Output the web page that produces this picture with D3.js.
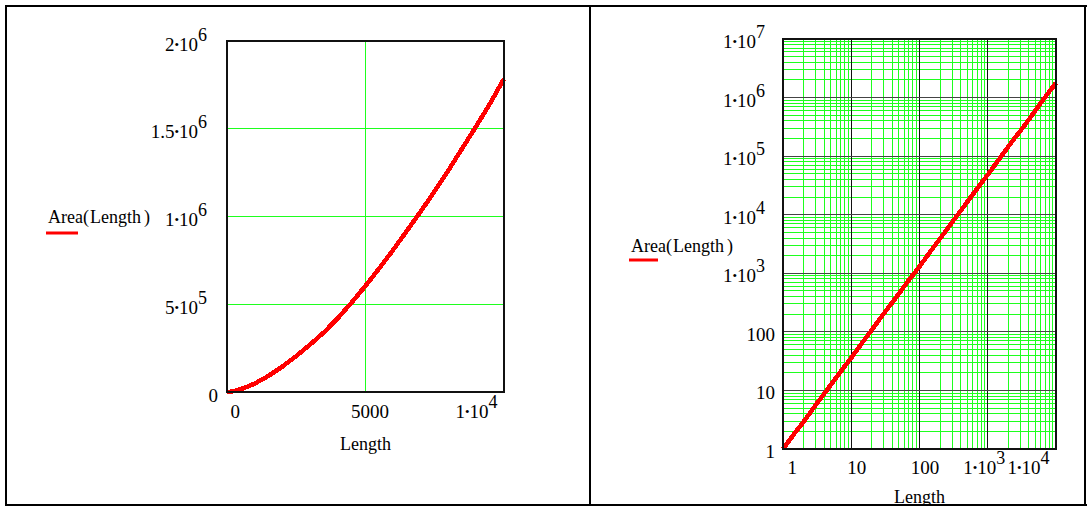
<!DOCTYPE html>
<html>
<head>
<meta charset="utf-8">
<script src="https://cdn.jsdelivr.net/npm/d3@7"></script>
<style>
  html, body { margin: 0; padding: 0; background: #fff; }
  svg { display: block; }
  text { font-family: "Liberation Serif", "Times New Roman", serif; font-size: 18px; fill: #000; }
  .tick text { font-size: 19px; }
</style>
</head>
<body>
<svg id="chart" width="1087" height="506"></svg>
<script>
// Sampled lengths and their areas
const lengths = [1, 1.5, 2, 3, 4.5, 7, 10, 15, 20, 30, 50, 70, 100, 150, 200, 300, 500, 700,
  1000, 1500, 2000, 2500, 3000, 3500, 4000, 4500, 5000, 5500, 6000, 6500, 7000, 7500,
  8000, 8500, 9000, 9500, 10000];
const areas = [1, 1.9, 2.9, 5.6, 10.5, 21, 36, 69, 108, 205, 450, 770, 1300, 2500, 3900, 7400,
  16500, 28000, 48000, 92000, 145000, 205000, 270000, 340000, 420000, 510000, 605000,
  705000, 810000, 920000, 1030000, 1145000, 1265000, 1390000, 1515000, 1645000, 1785000];

// Linear plot axes
const linXTicks = [0, 5000, 10000];
const linXLabels = ["0", "5000", "1·10^4"];
const linYTicks = [0, 500000, 1000000, 1500000, 2000000];
const linYLabels = ["0", "5·10^5", "1·10^6", "1.5·10^6", "2·10^6"];
const linXGrid = [5000];
const linYGrid = [500000, 1000000, 1500000];

// Log plot axes
const logXTicks = [1, 10, 100, 1000, 10000];
const logXLabels = ["1", "10", "100", "1·10^3", "1·10^4"];
const logYTicks = [1, 10, 100, 1000, 10000, 100000, 1000000, 10000000];
const logYLabels = ["1", "10", "100", "1·10^3", "1·10^4", "1·10^5", "1·10^6", "1·10^7"];

const axisTitle = "Length";
const legendName = ["Area", "(", "Length", ")"];

const svg = d3.select("#chart");
const green = "#1eff1e";
const red = "#ff0000";

// Write a label such as "1.5·10^6" as base text plus a raised exponent
function writeLabel(text, str) {
  text.text(null);
  const parts = str.split("^");
  const base = parts[0];
  const dotIdx = base.indexOf("·");
  if (dotIdx >= 0) {
    text.append("tspan").text(base.slice(0, dotIdx));
    text.append("tspan").attr("font-size", 13).attr("dy", -2).text("•");
    text.append("tspan").attr("dy", 2).text(base.slice(dotIdx + 1));
  } else {
    text.append("tspan").text(base);
  }
  if (parts.length > 1) {
    text.append("tspan").attr("dy", -10).attr("font-size", 18).text(parts[1]);
  }
}

function styleYAxis(g, labels, offPlain, offExp, dy) {
  g.select(".domain").remove();
  g.selectAll(".tick line").remove();
  g.selectAll(".tick text").each(function(d, i) {
    const t = d3.select(this);
    const s = labels[i];
    t.attr("text-anchor", "end")
     .attr("x", s.includes("^") ? offExp : offPlain)
     .attr("dy", null)
     .attr("y", dy)
     .attr("fill", "#000");
    writeLabel(t, s);
  });
  g.attr("font-family", null).attr("font-size", null);
}

function styleXAxis(g, labels, y, firstDx, midDx, expDx, lastDx) {
  g.select(".domain").remove();
  g.selectAll(".tick line").remove();
  const n = labels.length;
  g.selectAll(".tick text").each(function(d, i) {
    const t = d3.select(this);
    const s = labels[i];
    let anchor = "middle", dx = s.includes("^") ? expDx : midDx;
    if (i === 0) { anchor = "start"; dx = firstDx; }
    if (i === n - 1) { anchor = "end"; dx = lastDx; }
    t.attr("text-anchor", anchor).attr("x", dx).attr("dy", null).attr("y", y).attr("fill", "#000");
    writeLabel(t, s);
  });
  g.attr("font-family", null).attr("font-size", null);
}

function drawLegend(x, y, lineX1, lineX2, lineY) {
  const t = svg.append("text").attr("x", x).attr("y", y);
  t.append("tspan").text(legendName[0]);
  t.append("tspan").text(legendName[1]);
  t.append("tspan").attr("dx", 1).text(legendName[2]);
  t.append("tspan").attr("dx", 3).text(legendName[3]);
  svg.append("line").attr("x1", lineX1).attr("x2", lineX2).attr("y1", lineY).attr("y2", lineY)
    .attr("stroke", red).attr("stroke-width", 3);
}

const points = lengths.map((L, i) => ({ L, A: areas[i] }));

// ---------- Linear plot ----------
{
  const box = { x0: 227, x1: 504, y0: 41, y1: 392 };
  const x = d3.scaleLinear().domain([0, 10000]).range([box.x0, box.x1]);
  const y = d3.scaleLinear().domain([0, 2000000]).range([box.y1, box.y0]);
  const g = svg.append("g");

  g.selectAll("line.vg").data(linXGrid).join("line")
    .attr("x1", d => x(d)).attr("x2", d => x(d)).attr("y1", box.y0).attr("y2", box.y1)
    .attr("stroke", green).attr("stroke-width", 1).attr("shape-rendering", "crispEdges");
  g.selectAll("line.hg").data(linYGrid).join("line")
    .attr("x1", box.x0).attr("x2", box.x1).attr("y1", d => y(d)).attr("y2", d => y(d))
    .attr("stroke", green).attr("stroke-width", 1).attr("shape-rendering", "crispEdges");

  g.append("path").datum(points)
    .attr("fill", "none").attr("stroke", red).attr("stroke-width", 4.5)
    .attr("stroke-linejoin", "round").attr("shape-rendering", "crispEdges")
    .attr("d", d3.line().x(d => x(d.L)).y(d => y(d.A)));

  g.append("rect").attr("x", box.x0).attr("y", box.y0)
    .attr("width", box.x1 - box.x0).attr("height", box.y1 - box.y0)
    .attr("fill", "none").attr("stroke", "#111").attr("stroke-width", 2);

  svg.append("g").attr("transform", `translate(${box.x0},0)`)
    .call(d3.axisLeft(y).tickValues(linYTicks).tickSize(0))
    .call(g => styleYAxis(g, linYLabels, -9, -20, 9));
  svg.append("g").attr("transform", `translate(0,${box.y1})`)
    .call(d3.axisBottom(x).tickValues(linXTicks).tickSize(0))
    .call(g => styleXAxis(g, linXLabels, 26, 3, 4, 0, -7));

  svg.append("text").attr("x", (box.x0 + box.x1) / 2).attr("y", 450)
    .attr("text-anchor", "middle").text(axisTitle);
  drawLegend(48, 223, 46, 78, 233);
}

// ---------- Log-log plot ----------
{
  const box = { x0: 783, x1: 1056, y0: 39, y1: 449 };
  const x = d3.scaleLog().domain([1, 10000]).range([box.x0, box.x1]);
  const y = d3.scaleLog().domain([1, 10000000]).range([box.y1, box.y0]);
  const g = svg.append("g").attr("shape-rendering", "crispEdges");
  const isMajor = v => Math.abs(Math.log10(v) - Math.round(Math.log10(v))) < 1e-9;

  const xt = x.ticks().filter(v => v > 1 && v < 10000);
  const yt = y.ticks().filter(v => v > 1 && v < 10000000);

  g.selectAll("line.vmin").data(xt.filter(v => !isMajor(v))).join("line")
    .attr("x1", d => x(d)).attr("x2", d => x(d)).attr("y1", box.y0).attr("y2", box.y1)
    .attr("stroke", green).attr("stroke-width", 1);
  g.selectAll("line.hmin").data(yt.filter(v => !isMajor(v))).join("line")
    .attr("x1", box.x0).attr("x2", box.x1).attr("y1", d => y(d)).attr("y2", d => y(d))
    .attr("stroke", green).attr("stroke-width", 1);
  g.selectAll("line.vmaj").data(xt.filter(isMajor)).join("line")
    .attr("x1", d => x(d)).attr("x2", d => x(d)).attr("y1", box.y0).attr("y2", box.y1)
    .attr("stroke", "#111").attr("stroke-width", 1);
  g.selectAll("line.hmaj").data(yt.filter(isMajor)).join("line")
    .attr("x1", box.x0).attr("x2", box.x1).attr("y1", d => y(d)).attr("y2", d => y(d))
    .attr("stroke", "#444").attr("stroke-width", 1);

  g.append("path").datum(points)
    .attr("fill", "none").attr("stroke", red).attr("stroke-width", 4.5)
    .attr("stroke-linejoin", "round")
    .attr("d", d3.line().x(d => x(d.L)).y(d => y(d.A)));

  g.append("rect").attr("x", box.x0).attr("y", box.y0)
    .attr("width", box.x1 - box.x0).attr("height", box.y1 - box.y0)
    .attr("fill", "none").attr("stroke", "#111").attr("stroke-width", 2);

  svg.append("g").attr("transform", `translate(${box.x0},0)`)
    .call(d3.axisLeft(y).tickValues(logYTicks).tickSize(0))
    .call(g => styleYAxis(g, logYLabels, -8, -18, 8.5));
  svg.append("g").attr("transform", `translate(0,${box.y1})`)
    .call(d3.axisBottom(x).tickValues(logXTicks).tickSize(0))
    .call(g => styleXAxis(g, logXLabels, 25, 4, 5, -4, -7));

  svg.append("text").attr("x", (box.x0 + box.x1) / 2).attr("y", 503)
    .attr("text-anchor", "middle").text(axisTitle);
  drawLegend(631, 252, 629, 658, 260);
}

// Page frame and panel divider
const frame = svg.append("g").attr("stroke", "#000").attr("stroke-width", 2);
frame.append("line").attr("x1", 5).attr("x2", 1087).attr("y1", 6).attr("y2", 6);
frame.append("line").attr("x1", 5).attr("x2", 1087).attr("y1", 505).attr("y2", 505);
frame.append("line").attr("x1", 6).attr("x2", 6).attr("y1", 5).attr("y2", 506);
frame.append("line").attr("x1", 590).attr("x2", 590).attr("y1", 5).attr("y2", 506);
frame.append("line").attr("x1", 1085).attr("x2", 1085).attr("y1", 5).attr("y2", 506);
</script>
</body>
</html>
